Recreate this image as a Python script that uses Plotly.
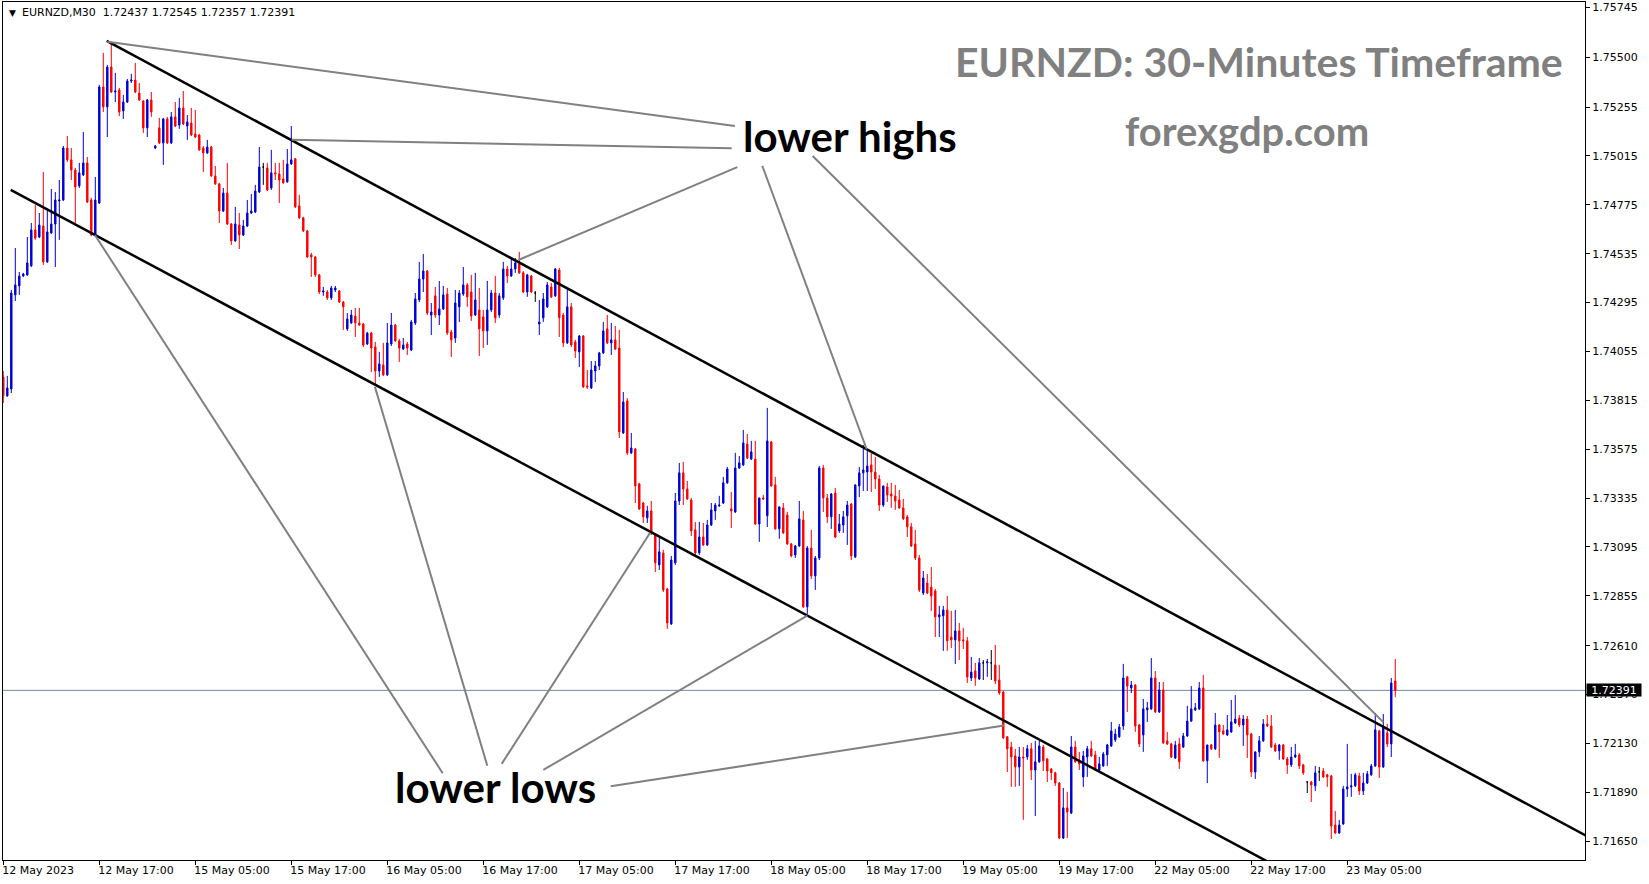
import plotly.graph_objects as go

# ---- OHLC data (EURNZD M30), one value per bar, bar 0 = 12 May 2023 05:00 ----
opens = [
1.73930,1.73837,1.73871,1.74333,1.74377,1.74426,1.74431,1.74475,1.74652,1.74617,
1.74671,1.74495,1.74637,1.74681,1.74794,1.74799,1.75054,1.74996,1.74946,1.74868,
1.74922,1.74981,1.74799,1.74627,1.74784,1.75354,1.75256,1.75452,1.75329,1.75339,
1.75236,1.75280,1.75383,1.75388,1.75324,1.75285,1.75153,1.75290,1.75054,1.75153,
1.75079,1.75197,1.75079,1.75207,1.75167,1.75251,1.75162,1.75177,1.75123,1.75118,
1.75054,1.75030,1.75059,1.74917,1.74878,1.74745,1.74833,1.74681,1.74598,1.74676,
1.74627,1.74671,1.74735,1.74740,1.74838,1.74961,1.74956,1.74858,1.74932,1.74927,
1.74902,1.74888,1.74976,1.75001,1.74770,1.74711,1.74647,1.74529,1.74519,1.74431,
1.74347,1.74347,1.74318,1.74357,1.74352,1.74298,1.74166,1.74195,1.74229,1.74195,
1.74190,1.74092,1.74146,1.74077,1.73959,1.73989,1.73940,1.74092,1.74185,1.74107,
1.74067,1.74092,1.74062,1.74195,1.74308,1.74411,1.74450,1.74234,1.74328,1.74234,
1.74264,1.74337,1.74151,1.74121,1.74274,1.74337,1.74382,1.74347,1.74234,1.74259,
1.74225,1.74156,1.74259,1.74342,1.74234,1.74318,1.74460,1.74426,1.74460,1.74485,
1.74441,1.74347,1.74426,1.74342,1.74190,1.74220,1.74274,1.74372,1.74328,1.74455,
1.74234,1.74097,1.74274,1.74102,1.74053,1.74131,1.73886,1.73876,1.73959,1.73984,
1.74048,1.74166,1.74097,1.74112,1.74072,1.73655,1.73812,1.73557,1.73576,1.73405,
1.73311,1.73238,1.73272,1.73154,1.73007,1.73066,1.72889,1.72717,1.73017,1.73321,
1.73459,1.73380,1.73326,1.73179,1.73066,1.73144,1.73105,1.73203,1.73272,1.73297,
1.73311,1.73410,1.73282,1.73267,1.73483,1.73498,1.73601,1.73527,1.73527,1.73208,
1.73336,1.73248,1.73611,1.73400,1.73184,1.73287,1.73252,1.73110,1.73056,1.73100,
1.73228,1.72801,1.73090,1.72953,1.73041,1.73483,1.73336,1.73243,1.73360,1.73174,
1.73203,1.73248,1.73306,1.73046,1.73395,1.73459,1.73463,1.73498,1.73463,1.73429,
1.73301,1.73390,1.73355,1.73345,1.73326,1.73287,1.73243,1.73194,1.73110,1.73041,
1.72869,1.72918,1.72898,1.72879,1.72752,1.72757,1.72786,1.72653,1.72639,1.72683,
1.72639,1.72634,1.72452,1.72486,1.72447,1.72526,1.72526,1.72526,1.72516,1.72442,
1.72383,1.72163,1.72113,1.72069,1.72015,1.72064,1.72064,1.72104,1.72000,1.72040,
1.72113,1.72054,1.72005,1.71986,1.71936,1.71666,1.71814,1.71789,1.72113,1.72049,
1.71966,1.72064,1.72104,1.72074,1.72000,1.72020,1.72074,1.72118,1.72148,1.72163,
1.72216,1.72457,1.72403,1.72417,1.72221,1.72172,1.72295,1.72300,1.72452,1.72285,
1.72393,1.72143,1.72128,1.72059,1.72128,1.72113,1.72167,1.72240,1.72295,1.72300,
1.72403,1.72045,1.72123,1.72104,1.72221,1.72192,1.72172,1.72187,1.72231,1.72255,
1.72221,1.72250,1.72177,1.71990,1.72089,1.72143,1.72226,1.72216,1.72123,1.72094,
1.72123,1.72054,1.72025,1.72064,1.72074,1.72025,1.71941,1.71941,1.71922,1.71991,
1.71995,1.71976,1.71971,1.71730,1.71691,1.71735,1.71907,1.71917,1.71922,1.71971,
1.71897,1.71936,1.71976,1.72020,1.72192,1.72015,1.72182,1.72128,1.72437]

highs = [
1.73959,1.73935,1.74357,1.74563,1.74445,1.74441,1.74617,1.74686,1.74774,1.74735,
1.74936,1.74750,1.74853,1.74838,1.74897,1.75064,1.75113,1.75054,1.74956,1.74981,
1.75133,1.75010,1.74809,1.74912,1.75364,1.75521,1.75462,1.75570,1.75423,1.75349,
1.75315,1.75393,1.75418,1.75472,1.75373,1.75290,1.75295,1.75329,1.75069,1.75202,
1.75202,1.75207,1.75231,1.75280,1.75300,1.75334,1.75216,1.75251,1.75241,1.75123,
1.75064,1.75094,1.75064,1.74966,1.74883,1.74858,1.74981,1.74686,1.74765,1.74735,
1.74701,1.74799,1.74828,1.74873,1.75059,1.74981,1.74981,1.75045,1.74981,1.74981,
1.74996,1.75049,1.75162,1.75005,1.74824,1.74716,1.74652,1.74539,1.74524,1.74436,
1.74372,1.74357,1.74377,1.74377,1.74357,1.74303,1.74244,1.74259,1.74269,1.74269,
1.74195,1.74151,1.74151,1.74102,1.74053,1.74097,1.74195,1.74244,1.74190,1.74117,
1.74121,1.74102,1.74210,1.74342,1.74495,1.74534,1.74455,1.74293,1.74372,1.74401,
1.74377,1.74367,1.74161,1.74357,1.74357,1.74470,1.74391,1.74431,1.74441,1.74367,
1.74259,1.74401,1.74357,1.74426,1.74342,1.74495,1.74475,1.74514,1.74514,1.74544,
1.74450,1.74436,1.74431,1.74352,1.74308,1.74342,1.74396,1.74391,1.74465,1.74465,
1.74244,1.74357,1.74293,1.74112,1.74136,1.74136,1.73964,1.74008,1.74008,1.74053,
1.74200,1.74234,1.74195,1.74180,1.74161,1.73856,1.73826,1.73655,1.73581,1.73410,
1.73316,1.73297,1.73321,1.73159,1.73144,1.73081,1.72894,1.73051,1.73360,1.73508,
1.73513,1.73419,1.73336,1.73218,1.73218,1.73213,1.73228,1.73311,1.73311,1.73346,
1.73439,1.73488,1.73365,1.73557,1.73542,1.73670,1.73650,1.73616,1.73616,1.73336,
1.73351,1.73778,1.73616,1.73439,1.73292,1.73311,1.73267,1.73115,1.73105,1.73321,
1.73272,1.73100,1.73179,1.73051,1.73493,1.73498,1.73355,1.73360,1.73385,1.73257,
1.73272,1.73321,1.73311,1.73400,1.73488,1.73596,1.73577,1.73557,1.73537,1.73449,
1.73395,1.73410,1.73410,1.73400,1.73375,1.73331,1.73252,1.73213,1.73179,1.73056,
1.72977,1.72962,1.72997,1.72889,1.72806,1.72806,1.72855,1.72781,1.72786,1.72722,
1.72698,1.72653,1.72555,1.72526,1.72550,1.72540,1.72545,1.72589,1.72614,1.72516,
1.72388,1.72167,1.72138,1.72104,1.72113,1.72113,1.72123,1.72133,1.72143,1.72143,
1.72123,1.72059,1.72010,1.71991,1.71941,1.71912,1.71893,1.72167,1.72143,1.72089,
1.72094,1.72118,1.72143,1.72094,1.72064,1.72089,1.72128,1.72236,1.72202,1.72226,
1.72521,1.72462,1.72437,1.72422,1.72226,1.72349,1.72334,1.72550,1.72486,1.72432,
1.72432,1.72187,1.72133,1.72143,1.72158,1.72182,1.72315,1.72412,1.72329,1.72432,
1.72467,1.72123,1.72128,1.72280,1.72226,1.72221,1.72270,1.72344,1.72368,1.72270,
1.72270,1.72265,1.72182,1.72089,1.72167,1.72250,1.72270,1.72270,1.72133,1.72128,
1.72128,1.72064,1.72113,1.72128,1.72084,1.72030,1.71946,1.71946,1.72020,1.72015,
1.72010,1.71981,1.71976,1.71799,1.71755,1.71922,1.72128,1.71981,1.71986,1.71986,
1.71986,1.71995,1.72030,1.72280,1.72197,1.72275,1.72226,1.72452,1.72545]

lows = [
1.73802,1.73832,1.73851,1.74303,1.74333,1.74421,1.74426,1.74470,1.74603,1.74612,
1.74480,1.74490,1.74632,1.74470,1.74603,1.74794,1.74986,1.74897,1.74686,1.74858,
1.74917,1.74784,1.74622,1.74622,1.74779,1.75231,1.75108,1.75324,1.75280,1.75211,
1.75197,1.75275,1.75373,1.75324,1.75285,1.75128,1.75108,1.75207,1.75049,1.75074,
1.74971,1.75074,1.75074,1.75157,1.75148,1.75167,1.75094,1.75113,1.75103,1.75040,
1.74936,1.75025,1.74912,1.74873,1.74686,1.74740,1.74676,1.74578,1.74593,1.74558,
1.74622,1.74666,1.74730,1.74735,1.74833,1.74873,1.74843,1.74848,1.74897,1.74784,
1.74878,1.74883,1.74971,1.74760,1.74706,1.74642,1.74514,1.74421,1.74421,1.74337,
1.74328,1.74308,1.74308,1.74347,1.74293,1.74161,1.74156,1.74190,1.74126,1.74180,
1.74077,1.74087,1.73954,1.73891,1.73930,1.73935,1.73935,1.74082,1.74102,1.74004,
1.74062,1.74038,1.74057,1.74185,1.74298,1.74347,1.74234,1.74136,1.74220,1.74185,
1.74259,1.74136,1.74028,1.74097,1.74200,1.74328,1.74274,1.74205,1.74229,1.74033,
1.74072,1.74087,1.74249,1.74195,1.74220,1.74308,1.74391,1.74421,1.74441,1.74436,
1.74342,1.74323,1.74342,1.74298,1.74136,1.74200,1.74269,1.74318,1.74323,1.74126,
1.74077,1.74092,1.74077,1.74023,1.73979,1.73876,1.73871,1.73871,1.73905,1.73964,
1.74043,1.74092,1.74038,1.74062,1.73630,1.73650,1.73547,1.73552,1.73311,1.73277,
1.73213,1.73213,1.73154,1.72972,1.72982,1.72874,1.72693,1.72712,1.73007,1.73301,
1.73301,1.73326,1.73149,1.73056,1.73056,1.73100,1.73100,1.73198,1.73228,1.73292,
1.73306,1.73405,1.73188,1.73262,1.73478,1.73493,1.73527,1.73522,1.73203,1.73120,
1.73326,1.73193,1.73390,1.73179,1.73135,1.73159,1.73105,1.73045,1.73041,1.73095,
1.72796,1.72766,1.72938,1.72884,1.73031,1.73267,1.73213,1.73184,1.73139,1.73164,
1.73164,1.73105,1.73031,1.73041,1.73340,1.73370,1.73370,1.73365,1.73380,1.73272,
1.73292,1.73316,1.73287,1.73277,1.73282,1.73228,1.73144,1.73095,1.73031,1.72874,
1.72859,1.72864,1.72781,1.72653,1.72653,1.72585,1.72585,1.72599,1.72521,1.72540,
1.72594,1.72427,1.72437,1.72413,1.72442,1.72442,1.72457,1.72442,1.72422,1.72369,
1.72153,1.71990,1.71917,1.71917,1.71922,1.71755,1.72050,1.71951,1.71774,1.72035,
1.71995,1.71941,1.71951,1.71922,1.71661,1.71661,1.71666,1.71784,1.72035,1.72000,
1.71917,1.71966,1.72064,1.71995,1.71995,1.72015,1.72020,1.72113,1.72138,1.72158,
1.72197,1.72285,1.72378,1.72187,1.72113,1.72089,1.72236,1.72295,1.72280,1.72280,
1.72128,1.72123,1.72059,1.72054,1.72005,1.72108,1.72163,1.72236,1.72290,1.72295,
1.72040,1.71936,1.72098,1.72098,1.72059,1.72172,1.72167,1.72182,1.72226,1.72211,
1.72118,1.72059,1.71966,1.71956,1.72064,1.72138,1.72211,1.72108,1.72089,1.72050,
1.72050,1.71981,1.72015,1.72059,1.72005,1.71976,1.71887,1.71843,1.71897,1.71946,
1.71961,1.71917,1.71661,1.71686,1.71686,1.71730,1.71868,1.71868,1.71917,1.71877,
1.71877,1.71931,1.71971,1.72015,1.71961,1.72010,1.72113,1.72064,1.72357]

closes = [
1.73837,1.73876,1.74342,1.74382,1.74426,1.74436,1.74490,1.74652,1.74612,1.74676,
1.74495,1.74642,1.74681,1.74799,1.74799,1.75054,1.74996,1.74946,1.74863,1.74932,
1.74981,1.74789,1.74627,1.74799,1.75354,1.75256,1.75452,1.75329,1.75334,1.75231,
1.75280,1.75383,1.75388,1.75329,1.75290,1.75153,1.75290,1.75231,1.75064,1.75079,
1.75197,1.75079,1.75207,1.75162,1.75251,1.75172,1.75182,1.75118,1.75108,1.75045,
1.75030,1.75059,1.74917,1.74878,1.74745,1.74833,1.74681,1.74598,1.74681,1.74627,
1.74671,1.74735,1.74745,1.74843,1.74961,1.74961,1.74848,1.74932,1.74927,1.74897,
1.74883,1.74976,1.74996,1.74765,1.74711,1.74647,1.74519,1.74519,1.74431,1.74347,
1.74352,1.74318,1.74367,1.74367,1.74298,1.74274,1.74215,1.74234,1.74195,1.74185,
1.74087,1.74146,1.74072,1.73959,1.73994,1.73940,1.74097,1.74185,1.74107,1.74072,
1.74087,1.74072,1.74200,1.74313,1.74411,1.74450,1.74244,1.74249,1.74234,1.74264,
1.74333,1.74146,1.74112,1.74293,1.74342,1.74382,1.74323,1.74229,1.74308,1.74166,
1.74156,1.74259,1.74342,1.74220,1.74328,1.74460,1.74426,1.74460,1.74490,1.74441,
1.74347,1.74431,1.74347,1.74342,1.74200,1.74313,1.74382,1.74323,1.74460,1.74220,
1.74097,1.74274,1.74087,1.74057,1.74131,1.73881,1.73881,1.73964,1.73984,1.74048,
1.74156,1.74097,1.74112,1.74067,1.73660,1.73807,1.73557,1.73581,1.73395,1.73282,
1.73243,1.73272,1.73164,1.73017,1.73071,1.72884,1.72722,1.73031,1.73321,1.73459,
1.73380,1.73331,1.73174,1.73066,1.73144,1.73105,1.73203,1.73277,1.73301,1.73301,
1.73410,1.73478,1.73272,1.73483,1.73508,1.73606,1.73532,1.73562,1.73208,1.73336,
1.73331,1.73616,1.73395,1.73184,1.73292,1.73164,1.73110,1.73051,1.73100,1.73233,
1.72801,1.73090,1.72953,1.73041,1.73483,1.73336,1.73243,1.73355,1.73144,1.73208,
1.73243,1.73301,1.73051,1.73400,1.73459,1.73473,1.73493,1.73463,1.73429,1.73301,
1.73395,1.73350,1.73345,1.73321,1.73287,1.73233,1.73194,1.73100,1.73041,1.72884,
1.72943,1.72869,1.72854,1.72752,1.72762,1.72786,1.72634,1.72639,1.72683,1.72634,
1.72634,1.72457,1.72481,1.72452,1.72526,1.72526,1.72531,1.72526,1.72437,1.72378,
1.72158,1.72104,1.72064,1.72015,1.72064,1.72059,1.72104,1.72000,1.72040,1.72118,
1.72045,1.71995,1.71986,1.71936,1.71666,1.71814,1.71794,1.72113,1.72040,1.72030,
1.72069,1.72104,1.72069,1.72000,1.72030,1.72079,1.72123,1.72192,1.72177,1.72211,
1.72452,1.72412,1.72417,1.72216,1.72128,1.72300,1.72305,1.72452,1.72285,1.72393,
1.72133,1.72128,1.72064,1.72123,1.72040,1.72167,1.72240,1.72300,1.72305,1.72403,
1.72045,1.72123,1.72104,1.72221,1.72187,1.72177,1.72197,1.72236,1.72250,1.72221,
1.72250,1.72172,1.71990,1.72089,1.72143,1.72226,1.72216,1.72113,1.72094,1.72123,
1.72054,1.72025,1.72064,1.72074,1.72020,1.71986,1.71941,1.71927,1.71986,1.71991,
1.71966,1.71966,1.71725,1.71691,1.71730,1.71907,1.71917,1.71922,1.71976,1.71897,
1.71936,1.71981,1.72020,1.72197,1.72015,1.72216,1.72128,1.72427,1.72391]

tick_labels = ["12 May 2023", "12 May 17:00", "15 May 05:00", "15 May 17:00",
               "16 May 05:00", "16 May 17:00", "17 May 05:00", "17 May 17:00",
               "18 May 05:00", "18 May 17:00", "19 May 05:00", "19 May 17:00",
               "22 May 05:00", "22 May 17:00", "23 May 05:00"]
bars_per_label = 24

price_ticks = [1.75745, 1.75500, 1.75255, 1.75015, 1.74775, 1.74535, 1.74295,
               1.74055, 1.73815, 1.73575, 1.73335, 1.73095, 1.72855, 1.72610,
               1.72370, 1.72130, 1.71890, 1.71650]

# trend channel anchors: (bar index, price)
upper_channel = [(25.85, 1.75580), (215.85, 1.73575)]
lower_channel = [(1.85, 1.74848), (201.0, 1.72758)]

# callout connectors: (swing point), (label end) as (bar index, price)
high_callouts = [((26.0, 1.75576), (182.9, 1.75162)),
                 ((72.1, 1.75094), (182.1, 1.75053)),
                 ((128.75, 1.74504), (183.5, 1.74960)),
                 ((215.85, 1.73575), (189.75, 1.74967)),
                 ((345.0, 1.72235), (202.35, 1.75015))]
low_callouts = [((22.9, 1.74627), (109.85, 1.71984)),
                ((92.9, 1.73882), (121.0, 1.72021)),
                ((161.7, 1.73165), (124.6, 1.72030)),
                ((201.0, 1.72758), (135.0, 1.72000)),
                ((250.2, 1.72218), (151.85, 1.71920))]

BULL = "#0000D8"
BEAR = "#FF0000"
DOJI = "#000000"

n = len(closes)
highs = [max(h, o, c) for h, o, c in zip(highs, opens, closes)]
lows = [min(l, o, c) for l, o, c in zip(lows, opens, closes)]

bull_idx = [i for i in range(n) if closes[i] > opens[i]]
bear_idx = [i for i in range(n) if closes[i] < opens[i]]
doji_idx = [i for i in range(n) if closes[i] == opens[i]]


def candles(idx, color):
    return go.Candlestick(
        x=idx,
        open=[opens[i] for i in idx], high=[highs[i] for i in idx],
        low=[lows[i] for i in idx], close=[closes[i] for i in idx],
        increasing=dict(line=dict(color=color, width=1), fillcolor=color),
        decreasing=dict(line=dict(color=color, width=1), fillcolor=color),
        whiskerwidth=0, hoverinfo="skip", showlegend=False)


fig = go.Figure([candles(bear_idx, BEAR), candles(bull_idx, BULL), candles(doji_idx, DOJI)])

last = n - 1
shapes = []
# current price line
shapes.append(dict(type="line", xref="paper", yref="y", x0=0, x1=1,
                   y0=closes[last], y1=closes[last],
                   line=dict(color="#778899", width=1), layer="below"))


def ray(anchor, x_end):
    (x0, y0), (x1, y1) = anchor
    slope = (y1 - y0) / (x1 - x0)
    return dict(type="line", xref="x", yref="y", x0=x0, y0=y0,
                x1=x_end, y1=y0 + slope * (x_end - x0),
                line=dict(color="black", width=2.5), layer="above")


shapes.append(ray(upper_channel, 430))
shapes.append(ray(lower_channel, 430))
for (a, b) in high_callouts + low_callouts:
    shapes.append(dict(type="line", xref="x", yref="y", x0=a[0], y0=a[1], x1=b[0], y1=b[1],
                       line=dict(color="#808080", width=2), layer="above"))

nb = "\u00a0"
info = f"EURNZD,M30{nb}{nb}{opens[last]:.5f} {highs[last]:.5f} {lows[last]:.5f} {closes[last]:.5f}"
annotations = [
    dict(text="<b>EURNZD: 30-Minutes Timeframe</b>", xref="paper", yref="paper",
         x=0.6003, y=0.9312, xanchor="left", yanchor="middle", showarrow=False,
         font=dict(family="Lato", size=41, color="#808080")),
    dict(text="<b>forexgdp.com</b>", xref="paper", yref="paper",
         x=0.7080, y=0.8497, xanchor="left", yanchor="middle", showarrow=False,
         font=dict(family="Lato", size=40, color="#808080")),
    dict(text="<b>lower highs</b>", xref="paper", yref="paper",
         x=0.4668, y=0.8438, xanchor="left", yanchor="middle", showarrow=False,
         font=dict(family="Lato", size=42, color="black")),
    dict(text="<b>lower lows</b>", xref="paper", yref="paper",
         x=0.2468, y=0.0851, xanchor="left", yanchor="middle", showarrow=False,
         font=dict(family="Lato", size=42, color="black")),
    dict(text="▼", xref="paper", yref="paper", x=0.0024, y=0.9876, xanchor="left",
         yanchor="middle", showarrow=False, font=dict(family="DejaVu Sans", size=9, color="black")),
    dict(text=info, xref="paper", yref="paper", x=0.0106, y=0.9876, xanchor="left",
         yanchor="middle", showarrow=False, font=dict(family="DejaVu Sans", size=11, color="black")),
    dict(text=f"{closes[last]:.5f}", xref="paper", yref="y", x=1.0008, y=closes[last],
         xanchor="left", yanchor="middle", showarrow=False, bgcolor="black",
         width=54, height=12, borderpad=0,
         font=dict(family="DejaVu Sans", size=11, color="white")),
]

axis_font = dict(family="DejaVu Sans", size=11, color="black")
fig.update_layout(
    width=1649, height=884,
    margin=dict(l=3, r=64, t=2, b=24),
    paper_bgcolor="white", plot_bgcolor="white",
    boxgap=0.5, showlegend=False, hovermode=False,
    shapes=shapes, annotations=annotations,
    xaxis=dict(range=[-0.075, 395.43], rangeslider=dict(visible=False),
               tickvals=[k * bars_per_label for k in range(len(tick_labels))],
               ticktext=tick_labels, ticks="outside", ticklen=4, tickcolor="black",
               ticklabelposition="outside right", ticklabelshift=-2, tickfont=axis_font,
               showgrid=False, zeroline=False, showline=True, linecolor="black",
               linewidth=1, mirror=True, fixedrange=True),
    yaxis=dict(side="right", range=[1.71558, 1.75771], tickvals=price_ticks,
               ticktext=[f"{v:.5f}" for v in price_ticks], ticks="outside", ticklen=4,
               tickcolor="black", tickfont=axis_font, showgrid=False, zeroline=False,
               showline=True, linecolor="black", linewidth=1, mirror=True, fixedrange=True),
)

fig.write_html("out.html", config={"displayModeBar": False},
               post_script="document.body.style.margin='0';document.body.style.overflow='hidden';")
